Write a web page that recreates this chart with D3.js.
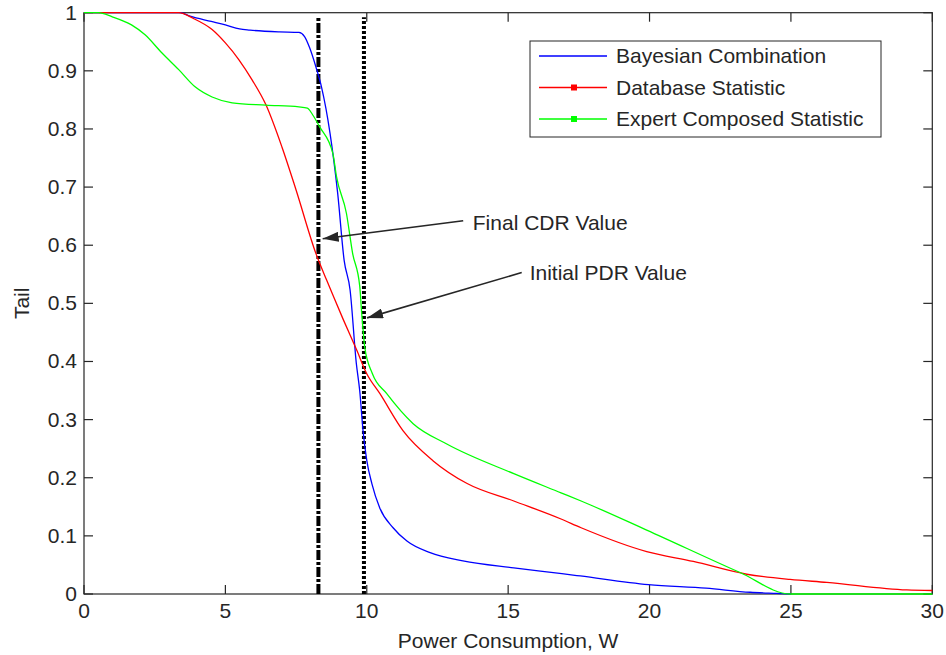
<!DOCTYPE html>
<html>
<head>
<meta charset="utf-8">
<script src="https://cdn.jsdelivr.net/npm/d3@7"></script>
<style>
  body { margin: 0; background: #fff; }
  text { font-family: "Liberation Sans", Arial, Helvetica, sans-serif; fill: #262626; }
</style>
</head>
<body>
<div id="chart"></div>
<script>
// Data
const bayesX = [0, 3.4, 3.75, 4.5, 5.0, 5.5, 5.87, 6.9, 7.6, 7.8, 7.97, 8.2, 8.4, 8.7, 8.97, 9.2, 9.41, 9.63, 9.75, 9.87, 10.0, 10.18, 10.46, 10.93, 11.42, 12.24, 13.4, 15.2, 16.9, 17.55, 19.96, 22.0, 23.56, 24.5, 25.0];
const bayesY = [1, 1, 0.994, 0.985, 0.979, 0.972, 0.970, 0.967, 0.966, 0.959, 0.941, 0.907, 0.872, 0.793, 0.69, 0.574, 0.523, 0.397, 0.35, 0.28, 0.23, 0.19, 0.148, 0.114, 0.091, 0.071, 0.057, 0.045, 0.035, 0.031, 0.016, 0.01, 0.003, 0.001, 0];

const dbX = [0, 3.35, 3.87, 4.53, 5.0, 5.48, 5.95, 6.43, 7.0, 7.5, 8.2, 8.58, 8.82, 9.17, 9.64, 10.0, 10.46, 11.28, 12.35, 13.55, 15.2, 16.87, 17.58, 19.9, 21.55, 23.44, 24.97, 26.27, 29.1, 30];
const dbY = [1, 1, 0.99, 0.971, 0.948, 0.919, 0.884, 0.842, 0.769, 0.695, 0.586, 0.54, 0.512, 0.472, 0.42, 0.379, 0.345, 0.281, 0.229, 0.19, 0.16, 0.129, 0.114, 0.073, 0.056, 0.034, 0.025, 0.020, 0.007, 0.006];

const expertX = [0, 0.5, 1.0, 1.68, 2.16, 2.75, 3.35, 3.94, 4.53, 5.24, 6.43, 7.6, 7.9, 8.09, 8.33, 8.8, 8.93, 9.28, 9.5, 9.75, 9.82, 9.87, 9.93, 10.2, 10.7, 11.64, 12.83, 15.2, 16.87, 17.58, 19.9, 23.2, 24.97, 30];
const expertY = [1, 1, 0.993, 0.979, 0.962, 0.931, 0.902, 0.872, 0.855, 0.845, 0.841, 0.838, 0.836, 0.824, 0.804, 0.758, 0.718, 0.655, 0.586, 0.53, 0.483, 0.454, 0.424, 0.379, 0.345, 0.293, 0.258, 0.207, 0.174, 0.16, 0.110, 0.037, 0, 0];

const seriesNames = ['Bayesian Combination', 'Database Statistic', 'Expert Composed Statistic'];
const seriesColors = ['#0000ff', '#ff0000', '#00ff00'];

const finalCDR = 8.29;
const initialPDR = 9.9;

const xTicks = [0, 5, 10, 15, 20, 25, 30];
const yTicks = [0, 0.1, 0.2, 0.3, 0.4, 0.5, 0.6, 0.7, 0.8, 0.9, 1];

// annotation text position, arrow start and arrow tip, in data units
const annFinal = { label: 'Final CDR Value', tx: 13.75, ty: 0.627, x0: 13.41, y0: 0.642, x1: 8.44, y1: 0.611 };
const annInitial = { label: 'Initial PDR Value', tx: 15.76, ty: 0.541, x0: 15.48, y0: 0.553, x1: 10.01, y1: 0.475 };

const width = 946, height = 655;
const margin = { left: 84, top: 12.7, right: 946 - 932.3, bottom: 655 - 594 };
const w = width - margin.left - margin.right;
const h = height - margin.top - margin.bottom;
const fontSize = '21px';

const svg = d3.select('#chart').append('svg')
  .attr('width', width)
  .attr('height', height);

const viz = svg.append('g').attr('transform', `translate(${margin.left},${margin.top})`);

const x = d3.scaleLinear().domain([0, 30]).range([0, w]);
const y = d3.scaleLinear().domain([0, 1]).range([h, 0]);

// Axes: MATLAB style box, ticks inside on all four sides
const axisColor = '#262626';
const tickLen = 9;

viz.append('rect')
  .attr('x', 0).attr('y', 0).attr('width', w).attr('height', h)
  .attr('fill', 'none').attr('stroke', axisColor).attr('stroke-width', 1.2);

const ticksG = viz.append('g').attr('stroke', axisColor).attr('stroke-width', 1.2);
xTicks.forEach(t => {
  ticksG.append('line').attr('x1', x(t)).attr('x2', x(t)).attr('y1', h).attr('y2', h - tickLen);
  ticksG.append('line').attr('x1', x(t)).attr('x2', x(t)).attr('y1', 0).attr('y2', tickLen);
});
yTicks.forEach(t => {
  ticksG.append('line').attr('x1', 0).attr('x2', tickLen).attr('y1', y(t)).attr('y2', y(t));
  ticksG.append('line').attr('x1', w).attr('x2', w - tickLen).attr('y1', y(t)).attr('y2', y(t));
});

viz.append('g').selectAll('text').data(xTicks).join('text')
  .attr('x', d => x(d)).attr('y', h + 24)
  .attr('text-anchor', 'middle')
  .style('font-size', fontSize)
  .text(d => d);

viz.append('g').selectAll('text').data(yTicks).join('text')
  .attr('x', -7).attr('y', d => y(d) + 7)
  .attr('text-anchor', 'end')
  .style('font-size', fontSize)
  .text(d => d);

svg.append('text')
  .attr('x', margin.left + w / 2).attr('y', 648)
  .attr('text-anchor', 'middle')
  .style('font-size', fontSize)
  .text('Power Consumption, W');

svg.append('text')
  .attr('transform', `translate(29,${margin.top + h / 2}) rotate(-90)`)
  .attr('text-anchor', 'middle')
  .style('font-size', fontSize)
  .text('Tail');

// Vertical reference lines
viz.append('line')
  .attr('x1', x(finalCDR)).attr('x2', x(finalCDR))
  .attr('y1', y(0)).attr('y2', y(0.992))
  .attr('stroke', '#000').attr('stroke-width', 4)
  .attr('stroke-dasharray', '10,2,3,2');

viz.append('line')
  .attr('x1', x(initialPDR)).attr('x2', x(initialPDR))
  .attr('y1', y(0)).attr('y2', y(0.992))
  .attr('stroke', '#000').attr('stroke-width', 4)
  .attr('stroke-dasharray', '3,2');

// Curves
const series = [
  { xs: bayesX, ys: bayesY },
  { xs: dbX, ys: dbY },
  { xs: expertX, ys: expertY }
];
const line = d3.line().x(d => x(d[0])).y(d => y(d[1])).curve(d3.curveMonotoneX);

series.forEach((s, i) => {
  viz.append('path')
    .datum(d3.zip(s.xs, s.ys))
    .attr('fill', 'none')
    .attr('stroke', seriesColors[i])
    .attr('stroke-width', 1.3)
    .attr('d', line);
});

// Annotation arrows
svg.append('defs').append('marker')
  .attr('id', 'arrow')
  .attr('viewBox', '0 0 16 10')
  .attr('refX', 16).attr('refY', 5)
  .attr('markerWidth', 16).attr('markerHeight', 10)
  .attr('markerUnits', 'userSpaceOnUse')
  .attr('orient', 'auto')
  .append('path')
  .attr('d', 'M0,0 L16,5 L0,10 Z')
  .attr('fill', axisColor);

[annFinal, annInitial].forEach(a => {
  viz.append('line')
    .attr('x1', x(a.x0)).attr('y1', y(a.y0))
    .attr('x2', x(a.x1)).attr('y2', y(a.y1))
    .attr('stroke', axisColor).attr('stroke-width', 1.6)
    .attr('marker-end', 'url(#arrow)');
  viz.append('text')
    .attr('x', x(a.tx)).attr('y', y(a.ty))
    .style('font-size', fontSize)
    .text(a.label);
});

// Legend
const legend = svg.append('g').attr('transform', 'translate(530,41)');
legend.append('rect')
  .attr('width', 351).attr('height', 96)
  .attr('fill', '#fff').attr('stroke', axisColor).attr('stroke-width', 1);

seriesNames.forEach((name, i) => {
  const ly = 15 + i * 31.5;
  legend.append('line')
    .attr('x1', 9).attr('x2', 77).attr('y1', ly).attr('y2', ly)
    .attr('stroke', seriesColors[i]).attr('stroke-width', 1.3);
  if (i > 0) {
    legend.append('rect')
      .attr('x', 41).attr('y', ly - 3).attr('width', 6).attr('height', 6)
      .attr('fill', seriesColors[i]);
  }
  legend.append('text')
    .attr('x', 86).attr('y', ly + 7)
    .style('font-size', fontSize)
    .text(name);
});
</script>
</body>
</html>
